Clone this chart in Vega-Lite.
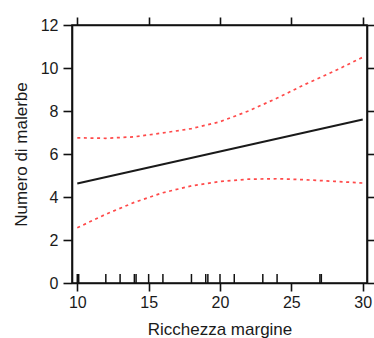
{
  "$schema": "https://vega.github.io/schema/vega-lite/v6.json",
  "width": 295,
  "height": 258,
  "autosize": "none",
  "padding": {"left": 72, "top": 25, "right": 7, "bottom": 55},
  "background": "white",
  "config": {
    "view": {"stroke": "#111", "strokeWidth": 1.6},
    "axis": {
      "grid": false,
      "domainColor": "#111",
      "domainWidth": 1.6,
      "tickColor": "#111",
      "tickWidth": 1.6,
      "labelFont": "Liberation Sans",
      "labelFontSize": 16,
      "labelColor": "#1a1a1a",
      "titleFont": "Liberation Sans",
      "titleFontSize": 17,
      "titleFontWeight": "normal",
      "titleColor": "#1a1a1a"
    }
  },
  "datasets": {
    "ci": [
      {"x": 10, "upper": 6.75, "lower": 2.57},
      {"x": 12, "upper": 6.73, "lower": 3.2},
      {"x": 14, "upper": 6.8, "lower": 3.75},
      {"x": 16, "upper": 6.98, "lower": 4.2},
      {"x": 18, "upper": 7.18, "lower": 4.52},
      {"x": 20, "upper": 7.5, "lower": 4.72},
      {"x": 22, "upper": 8.0, "lower": 4.83},
      {"x": 24, "upper": 8.6, "lower": 4.85},
      {"x": 26, "upper": 9.25, "lower": 4.8},
      {"x": 28, "upper": 9.85, "lower": 4.73},
      {"x": 30, "upper": 10.5, "lower": 4.65}
    ],
    "fit": [
      {"x": 10, "y": 4.63},
      {"x": 30, "y": 7.6}
    ],
    "rug": [
      {"x": 10}, {"x": 10.1}, {"x": 12}, {"x": 13}, {"x": 14}, {"x": 14.12},
      {"x": 15}, {"x": 16}, {"x": 18}, {"x": 19}, {"x": 19.15}, {"x": 20},
      {"x": 21}, {"x": 23}, {"x": 24}, {"x": 27}, {"x": 27.1}
    ]
  },
  "layer": [
    {
      "data": {"name": "ci"},
      "mark": {"type": "line", "color": "#ff4a4a", "strokeWidth": 1.7, "strokeDash": [3, 3.6]},
      "encoding": {
        "x": {"field": "x", "type": "quantitative",
          "scale": {"domain": [9.63, 30.3], "nice": false, "zero": false},
          "axis": {"orient": "bottom", "values": [10, 15, 20, 25, 30], "tickSize": 8, "labelPadding": 3, "title": "Ricchezza margine", "titlePadding": 11}},
        "y": {"field": "upper", "type": "quantitative",
          "scale": {"domain": [0, 12], "nice": false, "zero": false},
          "axis": {"orient": "left", "values": [0, 2, 4, 6, 8, 10, 12], "tickSize": 9, "labelPadding": 5, "title": "Numero di malerbe", "titlePadding": 10}}
      }
    },
    {
      "data": {"name": "ci"},
      "mark": {"type": "line", "color": "#ff4a4a", "strokeWidth": 1.7, "strokeDash": [3, 3.6]},
      "encoding": {
        "x": {"field": "x", "type": "quantitative",
          "scale": {"domain": [9.63, 30.3], "nice": false, "zero": false},
          "axis": {"orient": "top", "values": [10, 15, 20, 25, 30], "tickSize": 8, "labels": false, "title": null}},
        "y": {"field": "lower", "type": "quantitative",
          "scale": {"domain": [0, 12], "nice": false, "zero": false},
          "axis": {"orient": "right", "values": [0, 2, 4, 6, 8, 10, 12], "tickSize": 8, "labels": false, "title": null}}
      }
    },
    {
      "data": {"name": "fit"},
      "mark": {"type": "line", "color": "#1a1a1a", "strokeWidth": 2},
      "encoding": {
        "x": {"field": "x", "type": "quantitative",
          "scale": {"domain": [9.63, 30.3], "nice": false, "zero": false}, "axis": null},
        "y": {"field": "y", "type": "quantitative",
          "scale": {"domain": [0, 12], "nice": false, "zero": false}, "axis": null}
      }
    },
    {
      "data": {"name": "rug"},
      "mark": {"type": "rule", "color": "#111", "strokeWidth": 1.5},
      "encoding": {
        "x": {"field": "x", "type": "quantitative",
          "scale": {"domain": [9.63, 30.3], "nice": false, "zero": false}, "axis": null},
        "y": {"datum": 0, "type": "quantitative",
          "scale": {"domain": [0, 12], "nice": false, "zero": false}, "axis": null},
        "y2": {"datum": 0.42}
      }
    }
  ],
  "resolve": {"scale": {"x": "independent", "y": "independent"}, "axis": {"x": "independent", "y": "independent"}}
}
